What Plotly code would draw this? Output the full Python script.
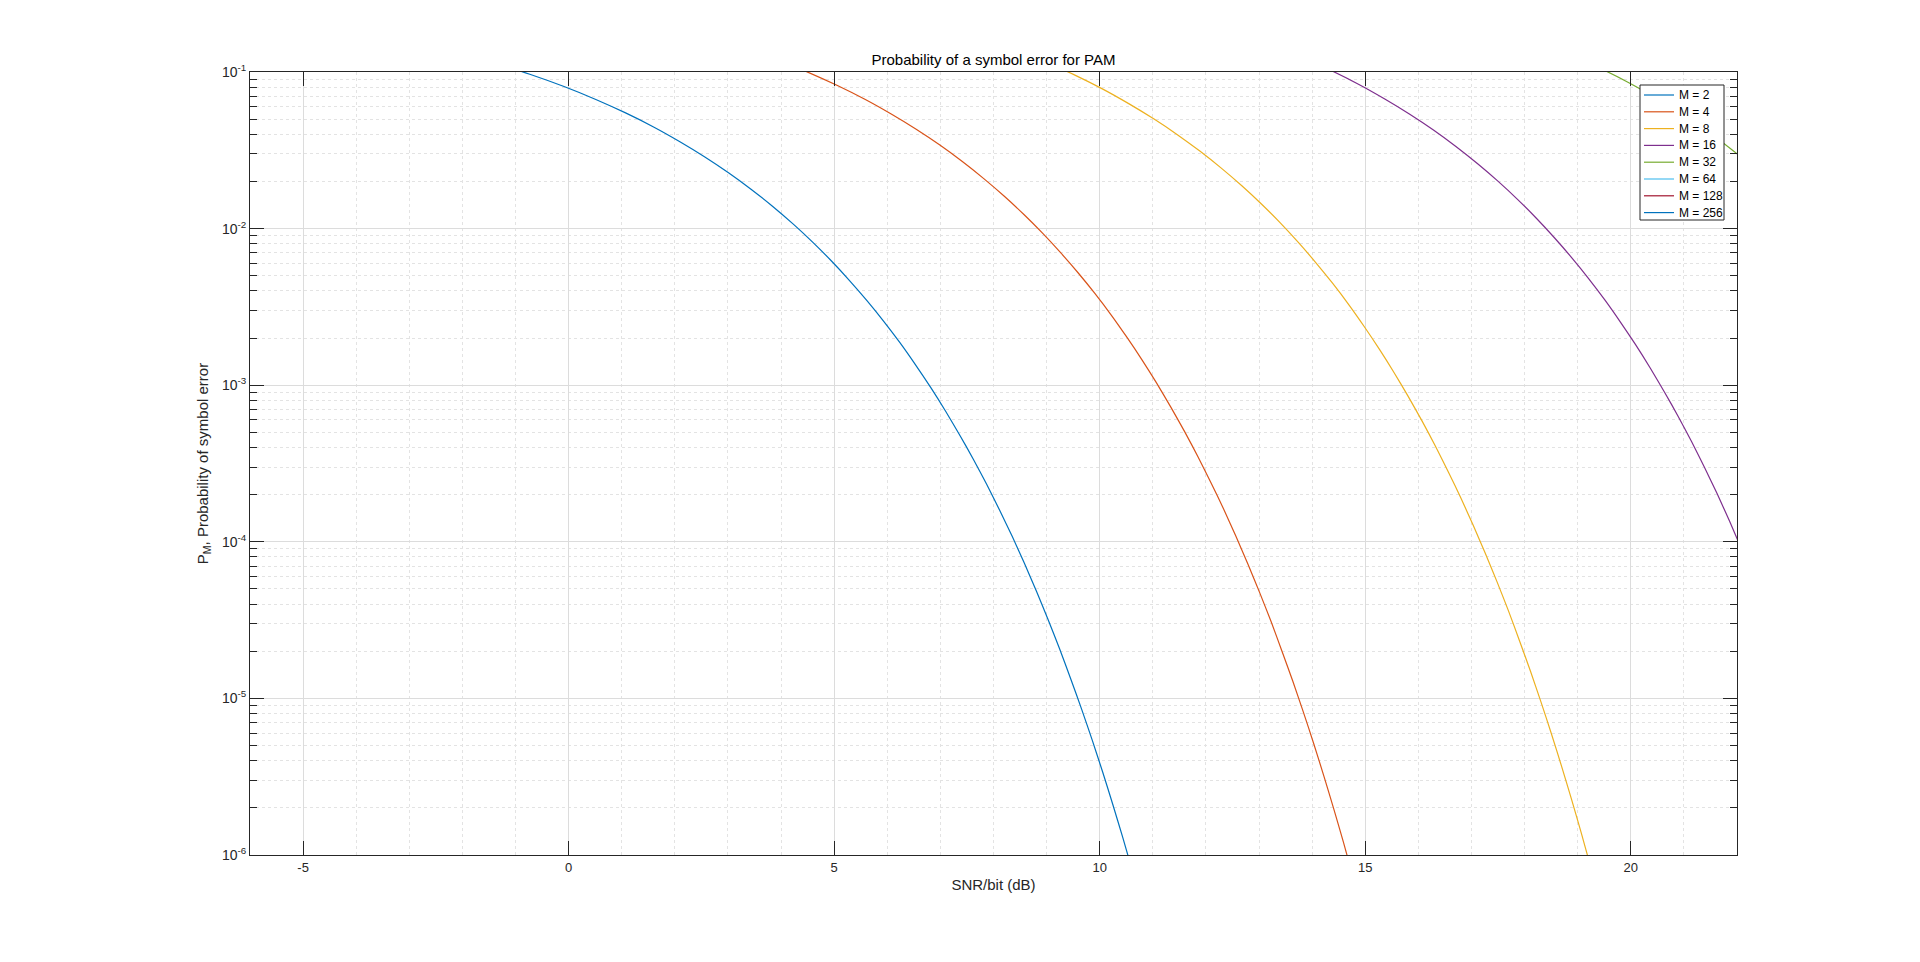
import plotly.graph_objects as go

# ---- data (SNR/bit in dB, symbol error probability) ----
snr_m2 = [-1.426, -0.731, -0.087, 0.512, 1.072, 1.599, 2.095, 2.565, 3.010, 3.434, 3.838, 4.225,
          4.594, 4.949, 5.289, 5.617, 5.933, 6.238, 6.532, 6.817, 7.093, 7.360, 7.620, 7.871,
          8.116, 8.354, 8.586, 8.811, 9.031, 9.246, 9.455, 9.659, 9.859, 10.054, 10.245, 10.432, 10.615]
pe_m2 = [0.1151, 0.0968, 0.0808, 0.0668, 0.0548, 0.0446, 0.0359, 0.0287, 0.02275, 0.01786, 0.01390,
         0.01072, 0.00820, 0.00621, 0.00466, 0.00347, 0.00256, 0.00187, 0.00135, 9.68e-4, 6.87e-4,
         4.83e-4, 3.37e-4, 2.33e-4, 1.59e-4, 1.08e-4, 7.23e-5, 4.81e-5, 3.17e-5, 2.07e-5, 1.33e-5,
         8.54e-6, 5.41e-6, 3.40e-6, 2.11e-6, 1.30e-6, 7.93e-7]

snr_m4 = [3.892, 4.491, 5.051, 5.578, 6.074, 6.544, 6.990, 7.413, 7.817, 8.204, 8.573, 8.928, 9.268,
          9.596, 9.912, 10.217, 10.511, 10.796, 11.072, 11.339, 11.599, 11.850, 12.095, 12.333,
          12.565, 12.790, 13.010, 13.225, 13.434, 13.638, 13.838, 14.033, 14.224, 14.411, 14.594, 14.773]
pe_m4 = [0.1212, 0.1002, 0.0822, 0.0669, 0.05385, 0.04305, 0.03413, 0.02679, 0.02085, 0.01608,
         0.01230, 0.009315, 0.00699, 0.005205, 0.00384, 0.002805, 0.002025, 0.001452, 0.0010305,
         7.245e-4, 5.055e-4, 3.495e-4, 2.385e-4, 1.62e-4, 1.0845e-4, 7.215e-5, 4.755e-5, 3.105e-5,
         1.995e-5, 1.281e-5, 8.115e-6, 5.1e-6, 3.165e-6, 1.95e-6, 1.19e-6, 7.19e-7]

snr_m8 = [8.963, 9.523, 10.050, 10.546, 11.016, 11.462, 11.885, 12.289, 12.676, 13.045, 13.400,
          13.740, 14.068, 14.384, 14.689, 14.983, 15.268, 15.544, 15.811, 16.071, 16.322, 16.567,
          16.805, 17.037, 17.262, 17.482, 17.697, 17.906, 18.110, 18.310, 18.505, 18.696, 18.883,
          19.066, 19.245, 19.420]
pe_m8 = [0.1169, 0.0959, 0.07805, 0.06283, 0.05023, 0.03981, 0.03126, 0.02433, 0.01876, 0.01435,
         0.01087, 0.008155, 0.006073, 0.00448, 0.003273, 0.002363, 0.001694, 0.001202, 8.453e-4,
         5.898e-4, 4.078e-4, 2.783e-4, 1.89e-4, 1.265e-4, 8.418e-5, 5.548e-5, 3.623e-5, 2.328e-5,
         1.495e-5, 9.468e-6, 5.95e-6, 3.693e-6, 2.275e-6, 1.388e-6, 8.383e-7, 5.02e-7]

snr_m16 = [13.785, 14.345, 14.872, 15.368, 15.838, 16.284, 16.707, 17.111, 17.498, 17.867, 18.222,
           18.562, 18.890, 19.206, 19.511, 19.805, 20.090, 20.366, 20.633, 20.893, 21.144, 21.389,
           21.627, 21.859, 22.084]
pe_m16 = [0.12525, 0.10275, 0.08363, 0.06731, 0.05381, 0.04266, 0.03349, 0.02606, 0.0201, 0.01538,
          0.01164, 0.008738, 0.006506, 0.0048, 0.003506, 0.002531, 0.001815, 0.001288, 9.056e-4,
          6.319e-4, 4.369e-4, 2.981e-4, 2.025e-4, 1.356e-4, 9.019e-5]

snr_m32 = [18.850, 19.410, 19.937, 20.433, 20.903, 21.349, 21.772, 22.176]
pe_m32 = [0.1294, 0.1062, 0.08641, 0.06956, 0.05561, 0.04408, 0.0346, 0.02693]

snr_m64 = [10.0, 16.0, 20.0, 22.0]
pe_m64 = [0.755, 0.545, 0.343, 0.234]
snr_m128 = [10.0, 16.0, 20.0, 22.0]
pe_m128 = [0.866, 0.7436, 0.608, 0.520]
snr_m256 = [10.0, 16.0, 20.0, 22.0]
pe_m256 = [0.928, 0.861, 0.7836, 0.7305]

series_names = ["M = 2", "M = 4", "M = 8", "M = 16", "M = 32", "M = 64", "M = 128", "M = 256"]
series_x = [snr_m2, snr_m4, snr_m8, snr_m16, snr_m32, snr_m64, snr_m128, snr_m256]
series_y = [pe_m2, pe_m4, pe_m8, pe_m16, pe_m32, pe_m64, pe_m128, pe_m256]
colors = ["#0072BD", "#D95319", "#EDB120", "#7E2F8E", "#77AC30", "#4DBEEE", "#A2142F", "#0072BD"]

x_ticks = [-5, 0, 5, 10, 15, 20]
x_ticktext = ["-5", "0", "5", "10", "15", "20"]
y_ticks = [1e-6, 1e-5, 1e-4, 1e-3, 1e-2, 1e-1]
y_ticktext = ["10<sup>-6</sup>", "10<sup>-5</sup>", "10<sup>-4</sup>", "10<sup>-3</sup>",
              "10<sup>-2</sup>", "10<sup>-1</sup>"]

FONT = "Liberation Sans, Arial, Helvetica, sans-serif"
AX = "#262626"

# page has an 8px body margin -> figure is 1904x946 so the page stays 1920x962
W, H = 1904, 946
L, R, T, B = 242, 175, 64, 99
PW, PH = W - L - R, H - T - B


def px_to_paper_x(page_x):
    return (page_x - 8 - L) / PW


def px_to_paper_y(page_y):
    return (H - B - (page_y - 8)) / PH


fig = go.Figure()
for name, xs, ys, c in zip(series_names, series_x, series_y, colors):
    fig.add_trace(go.Scatter(x=xs, y=ys, mode="lines", name=name, showlegend=False,
                             line=dict(color=c, width=1.2, shape="spline", smoothing=0.6)))

# legend box drawn like MATLAB's (compact rows)
shapes = [dict(type="rect", xref="paper", yref="paper",
               x0=px_to_paper_x(1640), x1=px_to_paper_x(1724),
               y0=px_to_paper_y(220), y1=px_to_paper_y(85),
               line=dict(color=AX, width=1), fillcolor="white", layer="above")]
annotations = []
for i, (name, c) in enumerate(zip(series_names, colors)):
    yy = px_to_paper_y(95 + 16.8 * i)
    shapes.append(dict(type="line", xref="paper", yref="paper",
                       x0=px_to_paper_x(1644), x1=px_to_paper_x(1674), y0=yy, y1=yy,
                       line=dict(color=c, width=1.2), layer="above"))
    annotations.append(dict(text=name, xref="paper", yref="paper", x=px_to_paper_x(1677), y=yy,
                            xanchor="left", yanchor="middle", showarrow=False,
                            font=dict(size=12, color="#000000", family=FONT)))

y_minor = [m * 10.0 ** e for e in range(-6, -1) for m in range(2, 10)]
x_minor = [v for v in range(-6, 23) if v % 5 != 0]

fig.update_layout(
    width=W, height=H,
    paper_bgcolor="white", plot_bgcolor="white",
    margin=dict(l=L, r=R, t=T, b=B),
    font=dict(family=FONT, size=13, color=AX),
    title=dict(text="Probability of a symbol error for PAM",
               x=(L + PW / 2) / W, xanchor="center", xref="container",
               y=1 - 52 / H, yanchor="middle", yref="container",
               font=dict(size=15, color="#000000")),
    shapes=shapes, annotations=annotations,
    showlegend=False,
)

fig.update_xaxes(
    range=[-6, 22], tickvals=x_ticks, ticktext=x_ticktext,
    ticks="inside", ticklen=14, tickcolor=AX,
    showline=True, linecolor=AX, linewidth=1, mirror="allticks",
    showgrid=True, gridcolor="#dcdcdc", gridwidth=1, zeroline=False,
    minor=dict(tickvals=x_minor, showgrid=True, gridcolor="#e3e3e3", griddash="dot", ticks=""),
    title=dict(text="SNR/bit (dB)", font=dict(size=15), standoff=5),
    tickfont=dict(size=13, color=AX),
)
fig.update_yaxes(
    type="log", range=[-6, -1], tickvals=y_ticks, ticktext=y_ticktext,
    ticks="inside", ticklen=14, tickcolor=AX,
    showline=True, linecolor=AX, linewidth=1, mirror="allticks",
    showgrid=True, gridcolor="#dcdcdc", gridwidth=1, zeroline=False,
    minor=dict(tickvals=y_minor, showgrid=True, gridcolor="#e3e3e3", griddash="dot",
               ticks="inside", ticklen=7, tickcolor=AX),
    title=dict(text="P<sub>M</sub>, Probability of symbol error", font=dict(size=15), standoff=9),
    tickfont=dict(size=14, color=AX),
)

fig.write_html("out.html")
